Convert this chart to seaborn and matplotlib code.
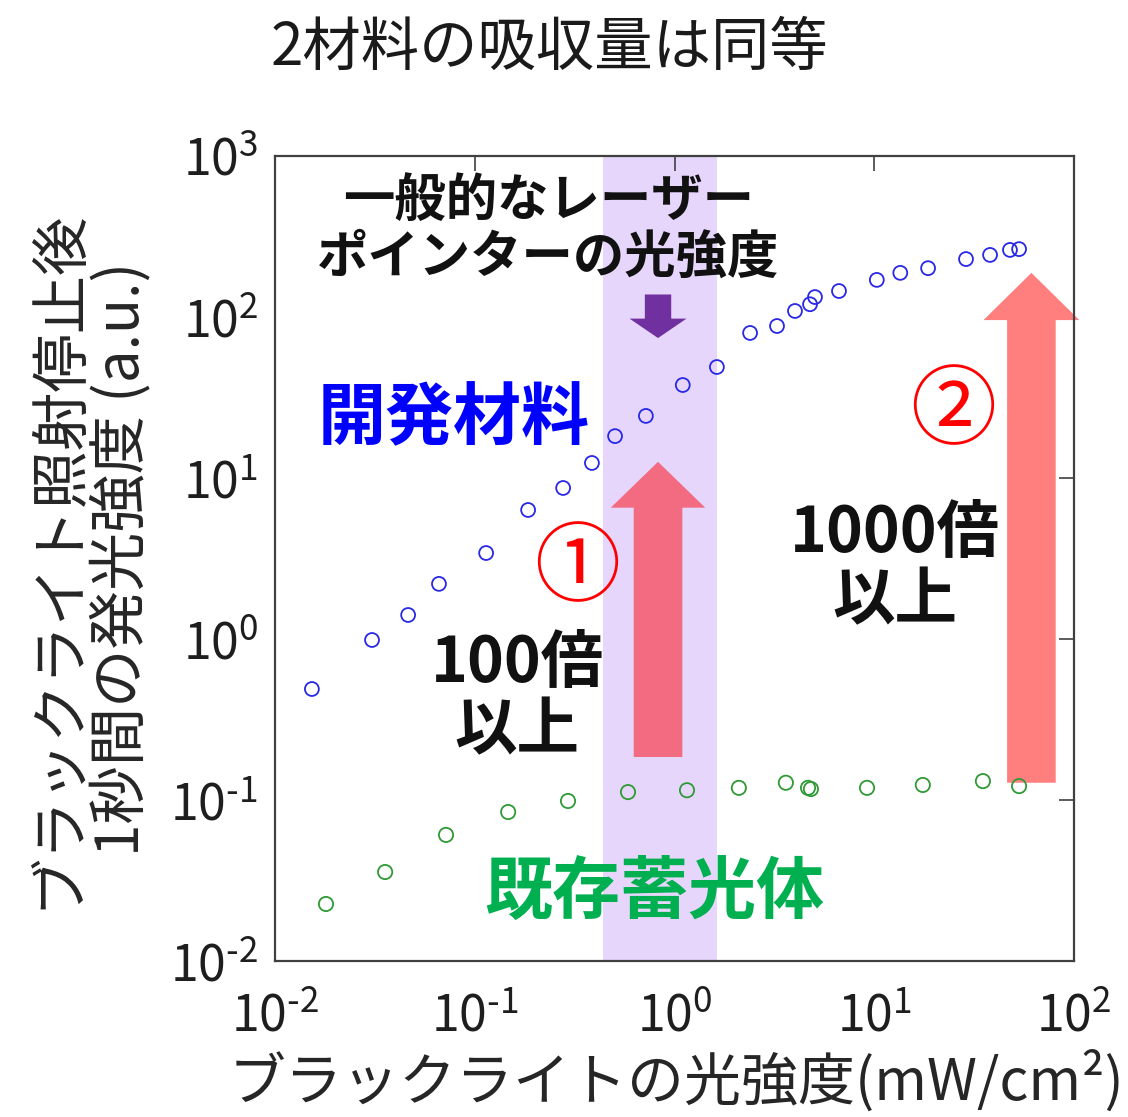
import matplotlib
matplotlib.use("Agg")
import matplotlib.pyplot as plt
from matplotlib.ticker import FuncFormatter
import numpy as np
import seaborn as sns

# 開発材料 (blue) and 既存蓄光体 (green)
blue_x = [0.0153, 0.0306, 0.0464, 0.0662, 0.114, 0.185, 0.277, 0.386, 0.504, 0.719,
          1.10, 1.63, 2.39, 3.26, 4.01, 4.77, 5.05, 6.66, 10.3, 13.5, 18.6, 28.8,
          38.0, 47.8, 53.1]
blue_y = [0.489, 0.986, 1.41, 2.20, 3.42, 6.33, 8.67, 12.4, 18.2, 24.3,
          37.8, 48.9, 79.6, 87.9, 109, 120, 133, 145, 170, 188, 201, 229,
          243, 261, 264]
green_x = [0.018, 0.0356, 0.0718, 0.147, 0.293, 0.585, 1.155, 2.10, 3.61, 4.66,
           4.82, 9.20, 17.5, 35.0, 53.1]
green_y = [0.0226, 0.0357, 0.0607, 0.0842, 0.0986, 0.112, 0.115, 0.119, 0.128, 0.119,
           0.117, 0.119, 0.124, 0.131, 0.122]

laser_range = (0.438, 1.63)

# arrows: x, y start, y end, colour, tail width, head width, head length (pt)
arrows = [
    (0.827, 138, 74, "#7030a0", 19, 41, 14),
    (0.827, 0.185, 12.6, "#f26b80", 35, 68, 33),
    (61.2, 0.128, 188, "#ff7f7f", 35, 69, 34),
]

sns.set_style("white")
plt.rcParams["font.family"] = ["Noto Sans CJK JP", "DejaVu Sans"]
plt.rcParams["mathtext.default"] = "regular"
plt.rcParams["axes.unicode_minus"] = False


def pow10(v, pos):
    e = int(round(np.log10(v)))
    if e < 0:
        return r"$\mathdefault{10^{\text{-}%d}}$" % (-e)
    return r"$\mathdefault{10^{%d}}$" % e


fig = plt.figure(figsize=(11.28, 11.17), dpi=100)
ax = fig.add_axes([275 / 1128, 1 - 961 / 1117, 799 / 1128, 805 / 1117])

ax.axvspan(laser_range[0], laser_range[1], color="#e6d6fc", lw=0, zorder=0)

sns.scatterplot(x=blue_x, y=blue_y, ax=ax, marker="o", s=100, facecolors="none",
                edgecolor="#2828e6", linewidth=1.3, color="#2828e6", zorder=3)
sns.scatterplot(x=green_x, y=green_y, ax=ax, marker="o", s=105, facecolors="none",
                edgecolor="#2f9a35", linewidth=1.3, color="#2f9a35", zorder=3)

ax.set_xscale("log")
ax.set_yscale("log")
ax.set_xlim(1e-2, 1e2)
ax.set_ylim(1e-2, 1e3)
ax.minorticks_off()
ax.xaxis.set_major_formatter(FuncFormatter(pow10))
ax.yaxis.set_major_formatter(FuncFormatter(pow10))

for a_x, y0, y1, col, tw, hw, hl in arrows:
    ax.annotate("", xy=(a_x, y1), xytext=(a_x, y0),
                arrowprops=dict(arrowstyle=f"simple,head_width={hw},head_length={hl},tail_width={tw}",
                                mutation_scale=1, color=col, lw=0, shrinkA=0, shrinkB=0),
                zorder=2)

ax.text(0.233, 352, "一般的なレーザー\nポインターの光強度", ha="center", va="center",
        fontsize=37, fontweight="bold", color="#111111", linespacing=1.1, zorder=4)
ax.text(0.0787, 22.9, "開発材料", ha="center", va="center", fontsize=49,
        fontweight="bold", color="#0000ff", zorder=4)
ax.text(0.789, 0.0264, "既存蓄光体", ha="center", va="center", fontsize=49,
        fontweight="bold", color="#00b050", zorder=4)
ax.text(0.325, 2.69, "①", ha="center", va="center", fontsize=62, color="#ff0000", zorder=4)
ax.text(24.8, 25.4, "②", ha="center", va="center", fontsize=62, color="#ff0000", zorder=4)
ax.text(0.163, 0.436, "100倍\n以上", ha="center", va="center", fontsize=45,
        fontweight="bold", color="#111111", linespacing=1.1, zorder=4)
ax.text(12.7, 2.80, "1000倍\n以上", ha="center", va="center", fontsize=45,
        fontweight="bold", color="#111111", linespacing=1.1, zorder=4)

for side in ax.spines.values():
    side.set_color("#404040")
    side.set_linewidth(1.6)

ax.tick_params(axis="both", which="major", direction="in", top=True, right=True,
               length=11, width=1.2, color="#404040", labelsize=36, labelcolor="#1e1e1e")
ax.tick_params(axis="y", pad=12)
ax.tick_params(axis="x", pad=22)

ax.set_xlabel("ブラックライトの光強度(mW/cm²)", fontsize=41, color="#262626", va="center")
ax.xaxis.set_label_coords(0.503, -0.150)
ax.set_ylabel("ブラックライト照射停止後\n1秒間の発光強度 (a.u.)", fontsize=42,
              color="#262626", va="center", linespacing=1.1)
ax.yaxis.set_label_coords(-0.231, 0.5)

fig.text(0.487, 1 - 48 / 1117, "2材料の吸収量は同等", ha="center", va="center",
         fontsize=42, color="#1a1a1a")

fig.savefig("out.png", dpi=100)
plt.close(fig)
